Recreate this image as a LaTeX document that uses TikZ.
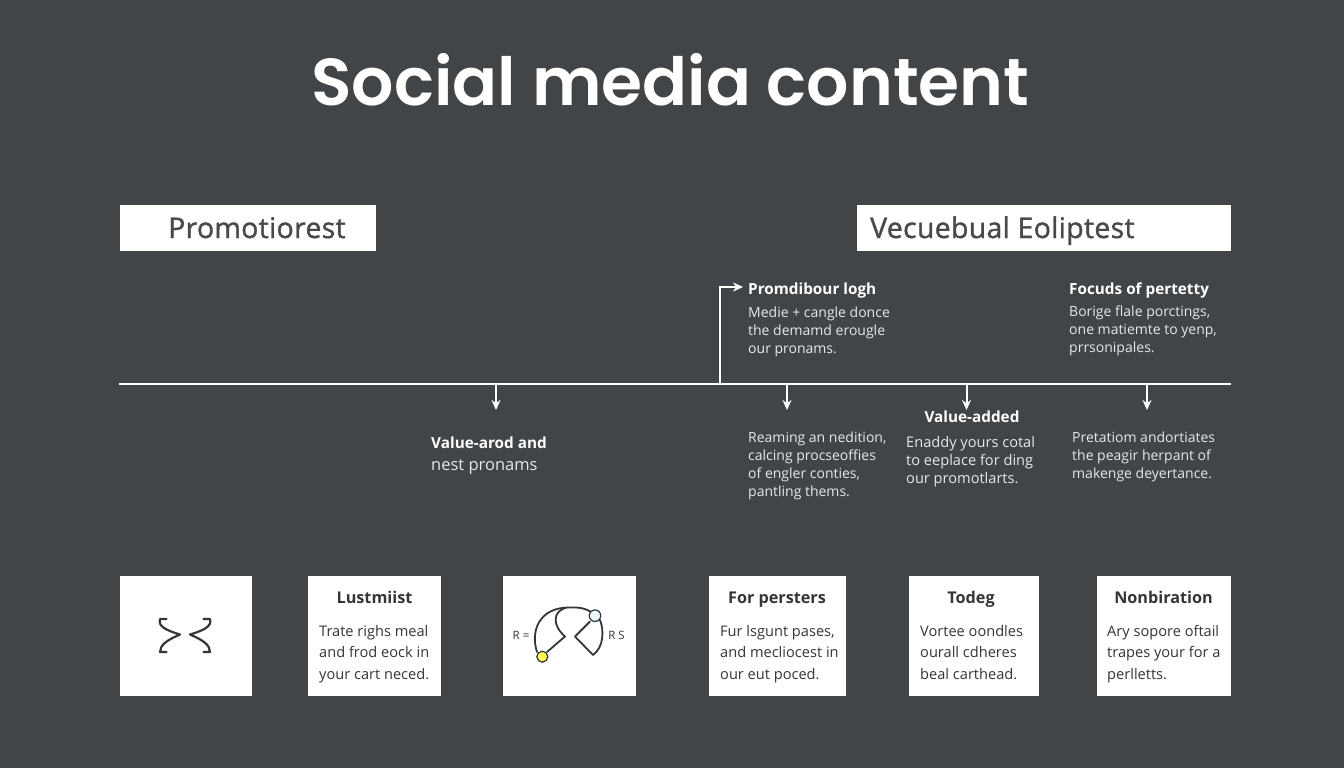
\documentclass[tikz,border=0pt]{standalone}
\usepackage{fontspec}
\setmainfont{Open Sans}
\newfontfamily\titlefont{Poppins SemiBold}
\newfontfamily\medfont[FakeBold=1.2,LetterSpace=1.2]{Open Sans}
\usetikzlibrary{arrows.meta}
\definecolor{bgc}{HTML}{424548}
\definecolor{inkc}{HTML}{333538}
\definecolor{softc}{HTML}{E6E7E8}
\tikzset{
  x=1pt,y=-1pt,
  headbox/.style={fill=white,draw=none,minimum height=46pt,inner sep=0pt,anchor=north west},
  headtext/.style={text=inkc!90!white,font=\medfont\fontsize{28.4}{30}\selectfont,inner sep=0pt,anchor=base west},
  cardbox/.style={fill=white,draw=none,minimum height=120pt,inner sep=0pt,anchor=north west},
  cardhead/.style={text=inkc,font=\fontsize{16.2}{18}\selectfont\bfseries,inner sep=0pt,anchor=base},
  cardbody/.style={text=inkc,font=\fontsize{14.6}{21.6}\selectfont,align=left,inner sep=0pt,anchor=north west},
  darkhead/.style={text=white,font=\fontsize{15.3}{18}\selectfont\bfseries,inner sep=0pt,anchor=base west},
  darkbody/.style={text=softc,font=\fontsize{14}{18}\selectfont,align=left,inner sep=0pt,anchor=north west},
  rail/.style={draw=white,line width=2.4pt},
  tick/.style={draw=white,line width=2pt,-{Stealth[length=10pt,width=9pt]}},
  glyph/.style={draw=inkc,line width=2.2pt,line cap=round,line join=round},
  small/.style={text=inkc,font=\fontsize{11.5}{12}\selectfont,inner sep=0pt},
}
\begin{document}
\begin{tikzpicture}
\useasboundingbox (0,0) rectangle (1344,768);
\fill[bgc] (0,0) rectangle (1344,768);
\node[text=white,font=\titlefont\fontsize{66.4}{70}\selectfont,inner sep=0pt,anchor=base] (title) at (670.5,106) {Social media content};

\node[headbox,minimum width=256pt] (hl) at (120,205) {};
\node[headtext] (hlt) at (168,238) {Promotiorest};
\node[headbox,minimum width=374pt] (hr) at (857,205) {};
\node[headtext] (hrt) at (870,238) {Vecuebual Eoliptest};

\coordinate (ra) at (119,384);
\coordinate (rb) at (1231,384);
\draw[rail] (ra) -- (rb);
\coordinate (j0) at (720,384);
\coordinate (j0u) at (720,287);
\coordinate (j0e) at (743,287);
\draw[draw=white,line width=2pt,-{Stealth[length=10pt,width=9pt]}] (j0) -- (j0u) -- (j0e);
\foreach \n/\x in {a/496,b/787,c/966.5,d/1147}{
  \coordinate (t\n) at (\x,384);
  \coordinate (e\n) at (\x,410);
  \draw[tick] (t\n) -- (e\n);
}

\node[darkhead] (h1) at (748,294) {Promdibour logh};
\node[darkbody] (b1) at (748,306.5) {Medie + cangle donce\\the demamd erougle\\our pronams.};
\node[darkhead] (h2) at (1069,294) {Focuds of pertetty};
\node[darkbody] (b2) at (1069,306) {Borige flale porctings,\\one matiemte to yenp,\\prrsonipales.};
\node[darkhead] (h3) at (431,448) {Value-arod and};
\node[text=softc,font=\fontsize{16.5}{18}\selectfont,inner sep=0pt,anchor=base west] (b3) at (431,470) {nest pronams};
\node[darkbody] (b4) at (748,431.5) {Reaming an nedition,\\calcing procseoffies\\of engler conties,\\pantling thems.};
\node[darkhead,anchor=base] (h5) at (972,422) {Value-added};
\node[darkbody,font=\fontsize{14.6}{18}\selectfont] (b5) at (906,436) {Enaddy yours cotal\\to eeplace for ding\\our promotlarts.};
\node[darkbody] (b6) at (1072,431.5) {Pretatiom andortiates\\the peagir herpant of\\makenge deyertance.};

\node[cardbox,minimum width=131.5pt] (c1) at (120,576) {};
\node[cardbox,minimum width=133pt] (c2) at (308,576) {};
\node[cardbox,minimum width=132.5pt] (c3) at (503,576) {};
\node[cardbox,minimum width=137pt] (c4) at (709,576) {};
\node[cardbox,minimum width=130pt] (c5) at (909,576) {};
\node[cardbox,minimum width=134pt] (c6) at (1097,576) {};

\node[cardhead] (c2h) at (374.5,603) {Lustmiist};
\node[cardbody] (c2b) at (319,625) {Trate righs meal\\and frod eock in\\your cart neced.};
\node[cardhead] (c4h) at (777,603) {For persters};
\node[cardbody] (c4b) at (720,625) {Fur lsgunt pases,\\and mecliocest in\\our eut poced.};
\node[cardhead] (c5h) at (971,603) {Todeg};
\node[cardbody] (c5b) at (920,625) {Vortee oondles\\ourall cdheres\\beal carthead.};
\node[cardhead] (c6h) at (1163.5,603) {Nonbiration};
\node[cardbody] (c6b) at (1107,625) {Ary sopore oftail\\trapes your for a\\perlletts.};

\draw[glyph] (166.5,619) -- (160,619) .. controls (158,626) and (165,630) .. (180,634.5) .. controls (167,640) and (160,645) .. (160,652) -- (166.5,652);
\draw[glyph] (203.5,619) -- (210,619) .. controls (212,626) and (205,630) .. (190,634.5) .. controls (203,640) and (210,645) .. (210,652) -- (203.5,652);

\draw[glyph,line width=1.8pt] (537,652) .. controls (530,630) and (540,607) .. (570,607.5) .. controls (580,607) and (587,609) .. (591,612);
\draw[glyph,line width=1.8pt] (600,620) .. controls (604,630) and (604,647) .. (593,655) -- (575,636.5) -- (590,621.5);
\draw[glyph,line width=1.8pt] (565,608) .. controls (553,612) and (552,625) .. (565,636.5) -- (547,652);
\node[circle,draw=inkc,line width=1.2pt,fill=yellow!65!white,minimum size=11pt,inner sep=0pt] (dy) at (542.3,656.7) {};
\node[circle,draw=inkc,line width=1.2pt,fill=cyan!8!white,minimum size=11.5pt,inner sep=0pt] (db) at (595,615.7) {};
\node[small] (rl) at (521,635) {R =};
\node[small] (rr) at (616.5,635) {R S};
\end{tikzpicture}
\end{document}
